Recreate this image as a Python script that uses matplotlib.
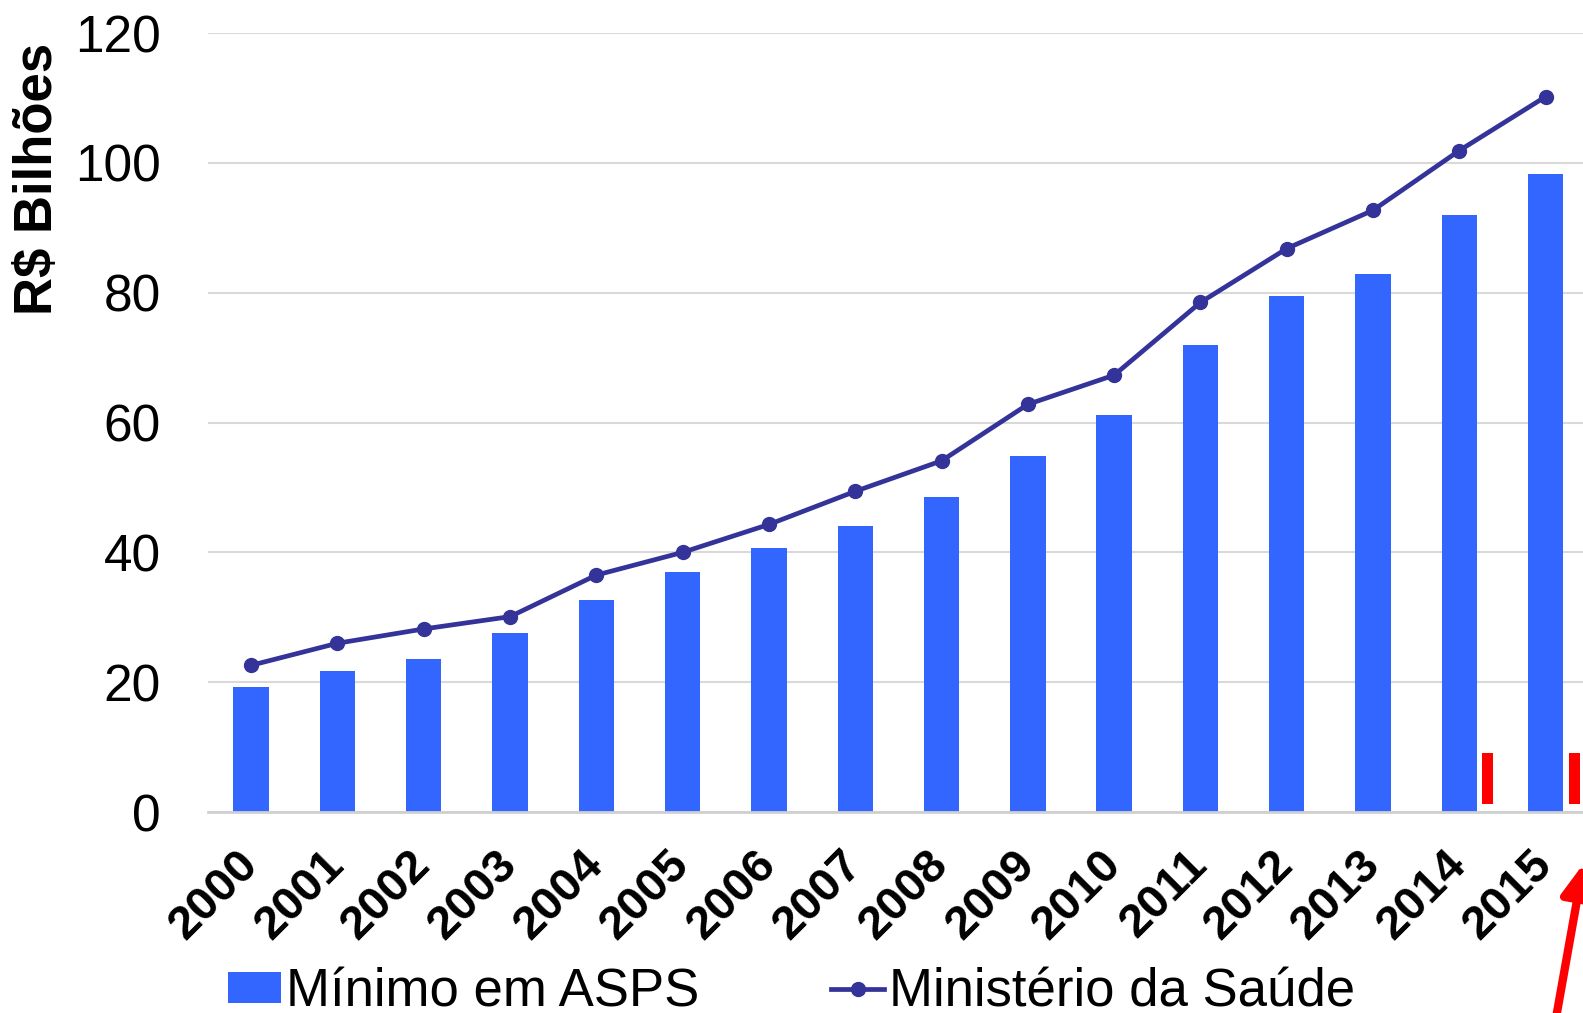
import matplotlib.pyplot as plt
import numpy as np

plt.rcParams['font.family'] = ['Liberation Sans', 'DejaVu Sans']

# Dados
anos = ['2000', '2001', '2002', '2003', '2004', '2005', '2006', '2007',
        '2008', '2009', '2010', '2011', '2012', '2013', '2014', '2015']
minimo_asps = [19.2, 21.7, 23.5, 27.6, 32.6, 36.9, 40.7, 44.1,
               48.5, 54.9, 61.1, 72.0, 79.5, 82.9, 91.9, 98.3]
ministerio_saude = [22.6, 26.0, 28.2, 30.1, 36.5, 40.0, 44.3, 49.4,
                    54.1, 62.8, 67.3, 78.5, 86.8, 92.7, 101.9, 110.2]

# marcas vermelhas (anotação) em 2014 e 2015
marca_idx = [14, 15]
marca_base = [1.2, 1.2]
marca_altura = [7.9, 7.9]

azul = '#3366FF'
azul_escuro = '#333399'

fig = plt.figure(figsize=(15.83, 10.13), dpi=100)
ax = fig.add_axes([0.1314, 0.1984, 0.9268, 0.769])

x = np.arange(len(anos))
barras = ax.bar(x, minimo_asps, width=0.41, color=azul, label='Mínimo em ASPS', zorder=2)
linha, = ax.plot(x, ministerio_saude, color=azul_escuro, linewidth=3.4, marker='o',
                 markersize=10, label='Ministério da Saúde', zorder=3)

ax.bar(np.array(marca_idx) + 0.33, marca_altura, bottom=marca_base, width=0.13,
       color='#FF0000', zorder=4)

ax.set_xlim(-0.5, 16.5)
ax.set_ylim(0, 120)
ax.set_yticks(range(0, 121, 20))
ax.grid(axis='y', color='#D9D9D9', linewidth=1.5, zorder=0)
for s in ['top', 'right', 'left']:
    ax.spines[s].set_visible(False)
ax.spines['bottom'].set_color('#D0D0D0')
ax.spines['bottom'].set_linewidth(2)

ax.tick_params(axis='y', length=0, pad=34, labelsize=37)
ax.tick_params(axis='x', length=0, pad=33)
ax.set_xticks(x)
ax.set_xticklabels(anos, rotation=45, ha='right', va='center',
                   rotation_mode='anchor', fontsize=34, fontweight='bold')

fig.text(38 / 1583, 1 - 179 / 1013, 'R$ Bilhões', rotation=90, ha='center',
         va='center', fontsize=38, fontweight='bold')

fig.legend(handles=[barras, linha], loc='lower left', bbox_to_anchor=(0.144, -0.004),
           ncol=2, frameon=False, fontsize=38, handlelength=1.0, handleheight=0.52,
           handletextpad=0.1, columnspacing=2.5, borderaxespad=0, borderpad=0)

# seta vermelha
ax.annotate('', xy=(1584, 152), xytext=(1556, -5), xycoords='figure pixels',
            textcoords='figure pixels',
            arrowprops=dict(arrowstyle='-|>', color='#FF0000', lw=6,
                            mutation_scale=48))

fig.savefig('out.png', dpi=100)
